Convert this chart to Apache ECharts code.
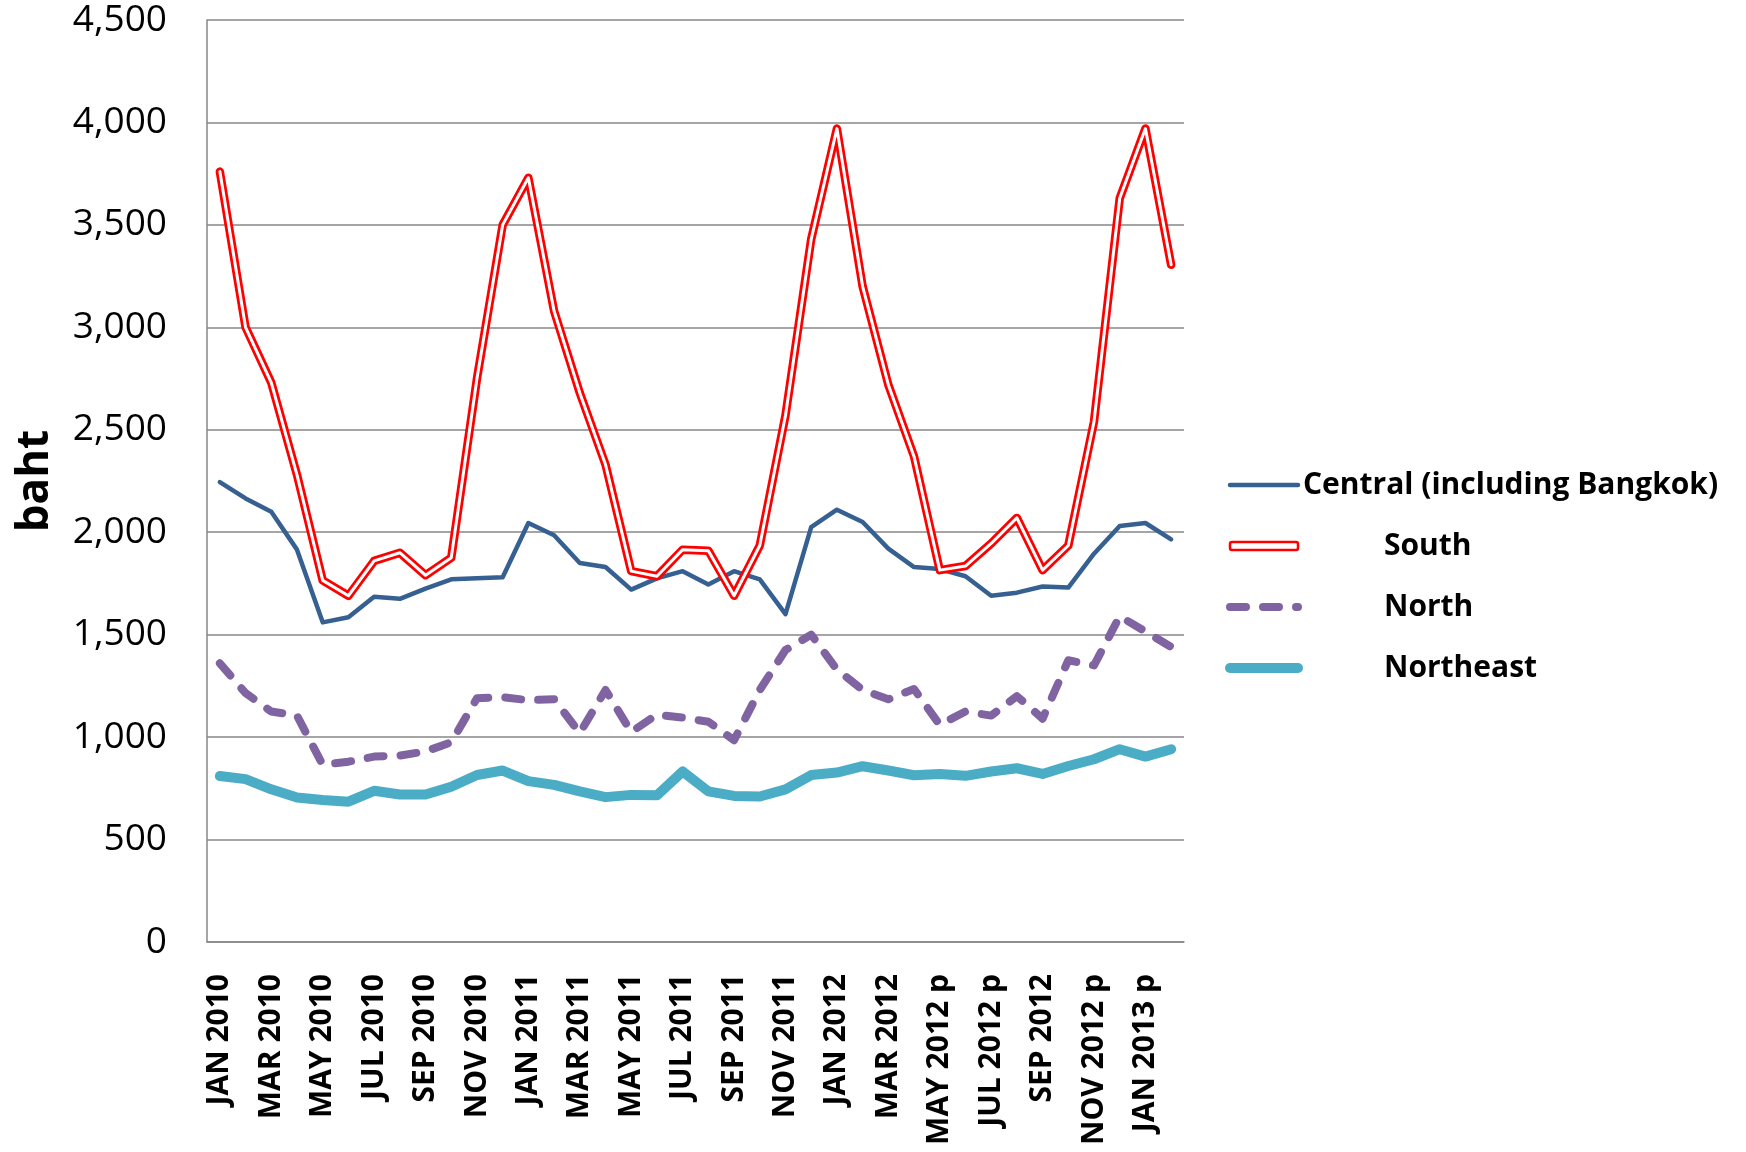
<!DOCTYPE html>
<html>
<head>
<meta charset="utf-8">
<script src="https://cdn.jsdelivr.net/npm/echarts@6/dist/echarts.min.js"></script>
<style>
  html, body { margin: 0; padding: 0; background: #fff; }
  #chart { width: 1746px; height: 1152px; }
</style>
</head>
<body>
<div id="chart"></div>
<script>
// months, JAN 2010 .. FEB 2013 (p = preliminary)
var months = [
  "JAN 2010", "FEB 2010", "MAR 2010", "APR 2010", "MAY 2010", "JUN 2010",
  "JUL 2010", "AUG 2010", "SEP 2010", "OCT 2010", "NOV 2010", "DEC 2010",
  "JAN 2011", "FEB 2011", "MAR 2011", "APR 2011", "MAY 2011", "JUN 2011",
  "JUL 2011", "AUG 2011", "SEP 2011", "OCT 2011", "NOV 2011", "DEC 2011",
  "JAN 2012", "FEB 2012", "MAR 2012", "APR 2012", "MAY 2012 p", "JUN 2012 p",
  "JUL 2012 p", "AUG 2012 p", "SEP 2012", "OCT 2012 p", "NOV 2012 p", "DEC 2012 p",
  "JAN 2013 p", "FEB 2013 p"
];

var central = [
  2245, 2165, 2100, 1915, 1560, 1585, 1685, 1675, 1725, 1770, 1775, 1780,
  2045, 1985, 1850, 1830, 1720, 1775, 1810, 1745, 1810, 1770, 1600, 2025,
  2110, 2050, 1920, 1830, 1820, 1785, 1690, 1705, 1735, 1730, 1895, 2030,
  2045, 1965
];
var south = [
  3760, 3000, 2730, 2280, 1765, 1690, 1860, 1900, 1790, 1875, 2750, 3500,
  3730, 3080, 2680, 2330, 1810, 1785, 1915, 1910, 1690, 1935, 2570, 3430,
  3970, 3200, 2720, 2370, 1815, 1835, 1945, 2070, 1815, 1935, 2540, 3630,
  3970, 3305
];
var north = [
  1360, 1215, 1125, 1105, 865, 880, 905, 910, 930, 975, 1190, 1195,
  1180, 1185, 1020, 1230, 1025, 1110, 1095, 1075, 985, 1230, 1425, 1500,
  1330, 1230, 1185, 1235, 1060, 1125, 1105, 1200, 1090, 1375, 1350, 1590,
  1515, 1440
];
var northeast = [
  810, 795, 745, 705, 693, 685, 738, 720, 720, 758, 815, 837,
  785, 767, 735, 707, 718, 716, 832, 735, 713, 710, 745, 815,
  827, 858, 837, 814, 820, 811, 832, 848, 820, 859, 892, 941,
  905, 941
];

var chart = echarts.init(document.getElementById("chart"));
var gridColor = "#878787";
var cBlue = "#376092", cRed = "#ff0000", cPurple = "#8064A2", cTeal = "#4BACC6";

chart.setOption({
  animation: false,
  backgroundColor: "#ffffff",
  grid: {
    left: 207,
    right: 562,
    top: 20,
    bottom: 210,
    outerBoundsMode: "none"
  },
  legend: {
    orient: "vertical",
    left: 1225,
    top: 465,
    padding: 0,
    itemWidth: 68,
    itemHeight: 8,
    itemGap: 21,
    itemStyle: { opacity: 0 },
    textStyle: {
      fontFamily: "Open Sans",
      fontWeight: "bold",
      fontSize: 30,
      lineHeight: 40,
      color: "#000",
      rich: { p: { width: 81 } }
    },
    formatter: function (name) {
      return name.indexOf("Central") === 0 ? name : "{p| }" + name;
    },
    data: [
      {
        name: "Central (including Bangkok)",
        lineStyle: { color: cBlue, width: 4.5, cap: "round" }
      },
      {
        name: "South",
        icon: "roundRect",
        itemStyle: { color: "#fff", borderColor: cRed, borderWidth: 2.5, opacity: 1 }
      },
      {
        name: "North",
        lineStyle: { color: cPurple, width: 8, type: [16, 17], cap: "round" }
      },
      {
        name: "Northeast",
        lineStyle: { color: cTeal, width: 10, cap: "round" }
      }
    ]
  },
  xAxis: {
    type: "category",
    data: months,
    boundaryGap: true,
    axisLine: { show: true, lineStyle: { color: gridColor, width: 1.5 } },
    axisTick: { show: false },
    axisLabel: {
      interval: 1,
      rotate: 90,
      margin: 32,
      fontFamily: "Open Sans",
      fontWeight: "bold",
      fontSize: 30,
      color: "#000"
    }
  },
  yAxis: {
    type: "value",
    min: 0,
    max: 4500,
    interval: 500,
    name: "baht",
    nameLocation: "middle",
    nameGap: 150,
    nameTextStyle: {
      fontFamily: "Open Sans",
      fontWeight: "bold",
      fontSize: 44,
      color: "#000"
    },
    axisLine: { show: true, lineStyle: { color: gridColor, width: 1.5 } },
    axisTick: { show: false },
    splitLine: { show: true, lineStyle: { color: gridColor, width: 1.5 } },
    axisLabel: {
      margin: 40,
      fontFamily: "Open Sans",
      fontSize: 37,
      color: "#000",
      formatter: function (v) {
        return v.toLocaleString("en-US");
      }
    }
  },
  series: [
    {
      name: "Northeast",
      type: "line",
      data: northeast,
      symbol: "none",
      z: 2,
      lineStyle: { color: cTeal, width: 10, cap: "round", join: "round" },
      itemStyle: { color: cTeal }
    },
    {
      name: "North",
      type: "line",
      data: north,
      symbol: "none",
      z: 3,
      lineStyle: { color: cPurple, width: 8, type: [16, 17], cap: "round", join: "round" },
      itemStyle: { color: cPurple }
    },
    {
      name: "Central (including Bangkok)",
      type: "line",
      data: central,
      symbol: "none",
      z: 4,
      lineStyle: { color: cBlue, width: 4.5, cap: "round", join: "round" },
      itemStyle: { color: cBlue }
    },
    {
      name: "South",
      type: "line",
      data: south,
      symbol: "none",
      z: 5,
      lineStyle: { color: cRed, width: 8.5, cap: "round", join: "round" },
      itemStyle: { color: cRed }
    },
    {
      // white core that makes the South line look doubled
      name: "South core",
      type: "line",
      data: south,
      symbol: "none",
      z: 6,
      silent: true,
      lineStyle: { color: "#ffffff", width: 3, cap: "round", join: "round" },
      itemStyle: { color: "#ffffff" }
    }
  ]
});
</script>
</body>
</html>
